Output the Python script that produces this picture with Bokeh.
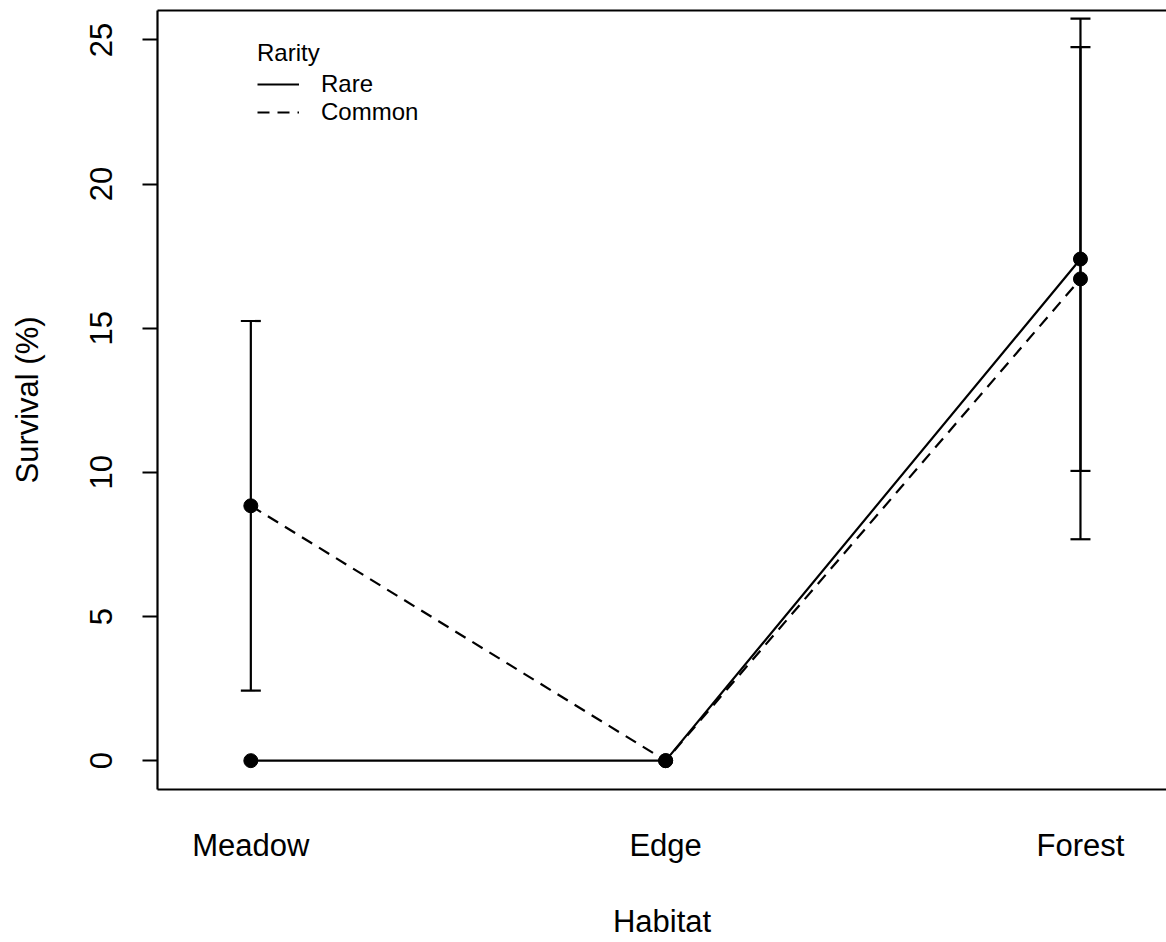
from bokeh.plotting import figure
from bokeh.models import (ColumnDataSource, Whisker, TeeHead, FixedTicker, LinearAxis,
                          Legend, LegendItem, Range1d)
from bokeh.embed import file_html
from bokeh.resources import INLINE

# ---- data ----
habitats = ["Meadow", "Edge", "Forest"]
rare_mean = [0.0, 0.0, 17.40]
rare_se = [0.0, 0.0, 7.35]
common_mean = [8.84, 0.0, 16.71]
common_se = [6.41, 0.0, 9.03]
y_ticks = [0, 5, 10, 15, 20, 25]

FONT = "Liberation Sans"
FS = "31px"
LW = 2.2
xs = list(range(1, len(habitats) + 1))

p = figure(width=1166, height=942,
           x_range=Range1d(0.775, 3.2074), y_range=Range1d(-1.0, 26.02),
           output_backend="svg", toolbar_location=None,
           min_border_left=157, min_border_right=0, min_border_top=10, min_border_bottom=153)
p.outline_line_color = None
p.xgrid.visible = False
p.ygrid.visible = False
p.background_fill_color = "white"
p.border_fill_color = "white"

# x axis
xa = p.xaxis[0]
xa.ticker = FixedTicker(ticks=xs)
xa.major_label_overrides = {x: h for x, h in zip(xs, habitats)}
xa.major_tick_out = 0
xa.major_tick_in = 0
xa.minor_tick_out = 0
xa.minor_tick_in = 0
xa.axis_line_width = LW
xa.axis_line_color = "black"
xa.major_label_text_font = FONT
xa.major_label_text_font_size = FS
xa.major_label_text_color = "black"
xa.major_label_standoff = 38
xa.axis_label = "Habitat"
xa.axis_label_text_font = FONT
xa.axis_label_text_font_size = FS
xa.axis_label_text_font_style = "normal"
xa.axis_label_text_color = "black"
xa.axis_label_standoff = 38

# y axis
ya = p.yaxis[0]
ya.ticker = FixedTicker(ticks=y_ticks)
ya.major_tick_out = 15
ya.major_tick_in = 0
ya.minor_tick_out = 0
ya.minor_tick_in = 0
ya.major_tick_line_width = LW
ya.major_tick_line_color = "black"
ya.axis_line_width = LW
ya.axis_line_color = "black"
ya.major_label_orientation = "vertical"
ya.major_label_text_font = FONT
ya.major_label_text_font_size = FS
ya.major_label_text_color = "black"
ya.major_label_standoff = 30
ya.axis_label = "Survival (%)"
ya.axis_label_text_font = FONT
ya.axis_label_text_font_size = FS
ya.axis_label_text_font_style = "normal"
ya.axis_label_text_color = "black"
ya.axis_label_standoff = 43

# top border
top = LinearAxis(ticker=FixedTicker(ticks=[]), major_tick_out=0, major_tick_in=0,
                 minor_tick_out=0, minor_tick_in=0, major_label_text_font_size="0px",
                 major_label_standoff=0, axis_line_width=LW, axis_line_color="black")
p.add_layout(top, "above")

# error bars
def bars(means, ses):
    d = dict(x=[], lo=[], hi=[])
    for x, m, s in zip(xs, means, ses):
        if s > 0:
            d["x"].append(x)
            d["lo"].append(m - s)
            d["hi"].append(m + s)
    return ColumnDataSource(d)

for means, ses in [(rare_mean, rare_se), (common_mean, common_se)]:
    w = Whisker(source=bars(means, ses), base="x", lower="lo", upper="hi", dimension="height",
                line_width=LW, line_color="black",
                upper_head=TeeHead(size=20, line_width=LW, line_color="black"),
                lower_head=TeeHead(size=20, line_width=LW, line_color="black"))
    p.add_layout(w)

rare_line = p.line(xs, rare_mean, line_width=LW, line_color="black")
common_line = p.line(xs, common_mean, line_width=LW, line_color="black", line_dash="12 8")
p.scatter(xs, rare_mean, size=14, fill_color="black", line_color="black")
p.scatter(xs, common_mean, size=14, fill_color="black", line_color="black")

legend = Legend(items=[LegendItem(label="Rare", renderers=[rare_line]),
                       LegendItem(label="Common", renderers=[common_line])],
                location=(100, 663), title="Rarity",
                title_text_font=FONT, title_text_font_size="24px", title_text_font_style="normal",
                title_text_color="black", title_text_line_height=1.0,
                label_text_font=FONT, label_text_font_size="24px", label_text_color="black",
                label_text_line_height=1.0,
                glyph_width=42, glyph_height=24, label_height=24, label_standoff=22,
                spacing=0, padding=0, margin=0, title_standoff=3,
                border_line_alpha=0, background_fill_alpha=0)
p.add_layout(legend)

open("out.html", "w").write(file_html(p, INLINE))
